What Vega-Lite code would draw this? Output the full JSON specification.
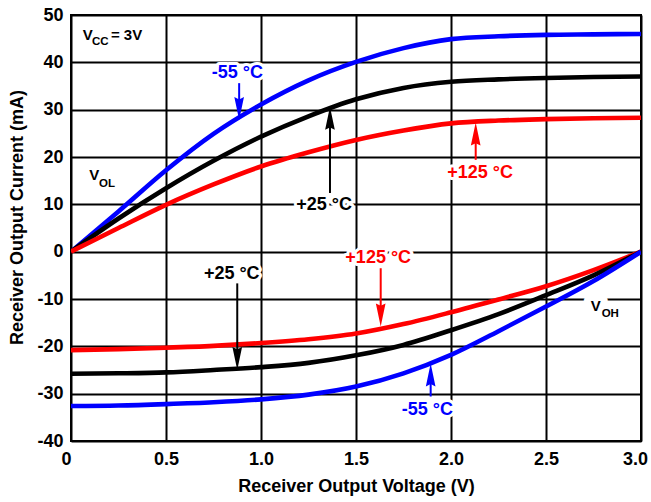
{
  "$schema": "https://vega.github.io/schema/vega-lite/v6.json",
  "autosize": "none",
  "width": 570,
  "height": 426,
  "padding": {"left": 71, "top": 15, "right": 10, "bottom": 61},
  "background": "white",
  "config": {
    "view": {"stroke": "black", "strokeWidth": 2},
    "font": "Liberation Sans",
    "axis": {
      "grid": true, "gridColor": "black", "gridWidth": 2, "gridOpacity": 1,
      "domain": false, "ticks": false, "tickSize": 0,
      "labelFont": "Liberation Sans", "labelFontSize": 18, "labelFontWeight": "bold", "labelColor": "black",
      "titleFont": "Liberation Sans", "titleFontSize": 18, "titleFontWeight": "bold", "titleColor": "black"
    }
  },
  "datasets": {
    "curves": [
      {"curve": "VOL-55", "temp": "-55", "v": 0, "i": 0},
      {"curve": "VOL-55", "temp": "-55", "v": 0.25, "i": 8.5},
      {"curve": "VOL-55", "temp": "-55", "v": 0.5, "i": 17.2},
      {"curve": "VOL-55", "temp": "-55", "v": 0.75, "i": 24.9},
      {"curve": "VOL-55", "temp": "-55", "v": 1.0, "i": 31.1},
      {"curve": "VOL-55", "temp": "-55", "v": 1.25, "i": 36.2},
      {"curve": "VOL-55", "temp": "-55", "v": 1.5, "i": 40.1},
      {"curve": "VOL-55", "temp": "-55", "v": 1.75, "i": 43.0},
      {"curve": "VOL-55", "temp": "-55", "v": 2.0, "i": 44.9},
      {"curve": "VOL-55", "temp": "-55", "v": 2.25, "i": 45.5},
      {"curve": "VOL-55", "temp": "-55", "v": 2.5, "i": 45.8},
      {"curve": "VOL-55", "temp": "-55", "v": 2.75, "i": 45.9},
      {"curve": "VOL-55", "temp": "-55", "v": 3.0, "i": 46.0},
      {"curve": "VOL+25", "temp": "+25", "v": 0, "i": 0},
      {"curve": "VOL+25", "temp": "+25", "v": 0.25, "i": 7.0},
      {"curve": "VOL+25", "temp": "+25", "v": 0.5, "i": 13.4},
      {"curve": "VOL+25", "temp": "+25", "v": 0.75, "i": 19.2},
      {"curve": "VOL+25", "temp": "+25", "v": 1.0, "i": 24.3},
      {"curve": "VOL+25", "temp": "+25", "v": 1.25, "i": 28.6},
      {"curve": "VOL+25", "temp": "+25", "v": 1.5, "i": 32.2},
      {"curve": "VOL+25", "temp": "+25", "v": 1.75, "i": 34.6},
      {"curve": "VOL+25", "temp": "+25", "v": 2.0, "i": 35.9},
      {"curve": "VOL+25", "temp": "+25", "v": 2.25, "i": 36.4},
      {"curve": "VOL+25", "temp": "+25", "v": 2.5, "i": 36.7},
      {"curve": "VOL+25", "temp": "+25", "v": 2.75, "i": 36.9},
      {"curve": "VOL+25", "temp": "+25", "v": 3.0, "i": 37.0},
      {"curve": "VOL+125", "temp": "+125", "v": 0, "i": 0},
      {"curve": "VOL+125", "temp": "+125", "v": 0.25, "i": 5.0},
      {"curve": "VOL+125", "temp": "+125", "v": 0.5, "i": 9.9},
      {"curve": "VOL+125", "temp": "+125", "v": 0.75, "i": 14.2},
      {"curve": "VOL+125", "temp": "+125", "v": 1.0, "i": 18.0},
      {"curve": "VOL+125", "temp": "+125", "v": 1.25, "i": 21.0},
      {"curve": "VOL+125", "temp": "+125", "v": 1.5, "i": 23.6},
      {"curve": "VOL+125", "temp": "+125", "v": 1.75, "i": 25.6},
      {"curve": "VOL+125", "temp": "+125", "v": 2.0, "i": 27.1},
      {"curve": "VOL+125", "temp": "+125", "v": 2.25, "i": 27.7},
      {"curve": "VOL+125", "temp": "+125", "v": 2.5, "i": 28.0},
      {"curve": "VOL+125", "temp": "+125", "v": 2.75, "i": 28.2},
      {"curve": "VOL+125", "temp": "+125", "v": 3.0, "i": 28.3},
      {"curve": "VOH+125", "temp": "+125", "v": 0, "i": -20.8},
      {"curve": "VOH+125", "temp": "+125", "v": 0.25, "i": -20.6},
      {"curve": "VOH+125", "temp": "+125", "v": 0.5, "i": -20.3},
      {"curve": "VOH+125", "temp": "+125", "v": 0.75, "i": -19.9},
      {"curve": "VOH+125", "temp": "+125", "v": 1.0, "i": -19.3},
      {"curve": "VOH+125", "temp": "+125", "v": 1.25, "i": -18.5},
      {"curve": "VOH+125", "temp": "+125", "v": 1.5, "i": -17.3},
      {"curve": "VOH+125", "temp": "+125", "v": 1.75, "i": -15.3},
      {"curve": "VOH+125", "temp": "+125", "v": 2.0, "i": -12.8},
      {"curve": "VOH+125", "temp": "+125", "v": 2.25, "i": -10.1},
      {"curve": "VOH+125", "temp": "+125", "v": 2.5, "i": -7.3},
      {"curve": "VOH+125", "temp": "+125", "v": 2.75, "i": -3.9},
      {"curve": "VOH+125", "temp": "+125", "v": 3.0, "i": 0},
      {"curve": "VOH+25", "temp": "+25", "v": 0, "i": -25.8},
      {"curve": "VOH+25", "temp": "+25", "v": 0.25, "i": -25.7},
      {"curve": "VOH+25", "temp": "+25", "v": 0.5, "i": -25.5},
      {"curve": "VOH+25", "temp": "+25", "v": 0.75, "i": -25.0},
      {"curve": "VOH+25", "temp": "+25", "v": 1.0, "i": -24.4},
      {"curve": "VOH+25", "temp": "+25", "v": 1.25, "i": -23.5},
      {"curve": "VOH+25", "temp": "+25", "v": 1.5, "i": -21.9},
      {"curve": "VOH+25", "temp": "+25", "v": 1.75, "i": -19.7},
      {"curve": "VOH+25", "temp": "+25", "v": 2.0, "i": -16.6},
      {"curve": "VOH+25", "temp": "+25", "v": 2.25, "i": -13.2},
      {"curve": "VOH+25", "temp": "+25", "v": 2.5, "i": -9.2},
      {"curve": "VOH+25", "temp": "+25", "v": 2.75, "i": -5.0},
      {"curve": "VOH+25", "temp": "+25", "v": 3.0, "i": 0},
      {"curve": "VOH-55", "temp": "-55", "v": 0, "i": -32.6},
      {"curve": "VOH-55", "temp": "-55", "v": 0.25, "i": -32.5},
      {"curve": "VOH-55", "temp": "-55", "v": 0.5, "i": -32.2},
      {"curve": "VOH-55", "temp": "-55", "v": 0.75, "i": -31.8},
      {"curve": "VOH-55", "temp": "-55", "v": 1.0, "i": -31.2},
      {"curve": "VOH-55", "temp": "-55", "v": 1.25, "i": -30.2},
      {"curve": "VOH-55", "temp": "-55", "v": 1.5, "i": -28.5},
      {"curve": "VOH-55", "temp": "-55", "v": 1.75, "i": -25.7},
      {"curve": "VOH-55", "temp": "-55", "v": 2.0, "i": -21.8},
      {"curve": "VOH-55", "temp": "-55", "v": 2.25, "i": -16.8},
      {"curve": "VOH-55", "temp": "-55", "v": 2.5, "i": -11.6},
      {"curve": "VOH-55", "temp": "-55", "v": 2.75, "i": -6.2},
      {"curve": "VOH-55", "temp": "-55", "v": 3.0, "i": 0}
    ],
    "labels": [
      {"text": "-55 °C", "temp": "-55", "v": 0.876, "i": 37.7},
      {"text": "+25 °C", "temp": "+25", "v": 1.332, "i": 9.9},
      {"text": "+125 °C", "temp": "+125", "v": 2.153, "i": 16.6},
      {"text": "+125 °C", "temp": "+125", "v": 1.617, "i": -1.4},
      {"text": "+25 °C", "temp": "+25", "v": 0.846, "i": -4.65},
      {"text": "-55 °C", "temp": "-55", "v": 1.876, "i": -33.45}
    ],
    "shafts": [
      {"temp": "-55", "v": 0.885, "i": 35.6, "i2": 30.2},
      {"temp": "+25", "v": 1.363, "i": 12.4, "i2": 28.2},
      {"temp": "+125", "v": 2.13, "i": 19.4, "i2": 24.9},
      {"temp": "+125", "v": 1.63, "i": -3.5, "i2": -13.4},
      {"temp": "+25", "v": 0.875, "i": -6.7, "i2": -22.6},
      {"temp": "-55", "v": 1.893, "i": -30.6, "i2": -26.0}
    ],
    "heads": [
      {"temp": "-55", "dir": "down", "v": 0.885, "i": 30.23},
      {"temp": "+25", "dir": "up", "v": 1.363, "i": 28.17},
      {"temp": "+125", "dir": "up", "v": 2.13, "i": 24.87},
      {"temp": "+125", "dir": "down", "v": 1.63, "i": -13.37},
      {"temp": "+25", "dir": "down", "v": 0.875, "i": -22.57},
      {"temp": "-55", "dir": "up", "v": 1.893, "i": -26.03}
    ],
    "mainText": [
      {"text": "V", "v": 0.0616, "i": 44.73},
      {"text": "= 3V", "v": 0.21, "i": 44.73},
      {"text": "V", "v": 0.0963, "i": 15.15},
      {"text": "V", "v": 2.735, "i": -12.53}
    ],
    "subText": [
      {"text": "CC", "v": 0.1105, "i": 43.67},
      {"text": "OL", "v": 0.147, "i": 13.73},
      {"text": "OH", "v": 2.793, "i": -13.73}
    ]
  },
  "encoding": {
    "x": {
      "field": "v", "type": "quantitative",
      "scale": {"domain": [0, 3], "nice": false, "zero": false},
      "axis": {
        "title": "Receiver Output Voltage (V)",
        "values": [0, 0.5, 1, 1.5, 2, 2.5, 3],
        "labelExpr": "datum.value == 0 ? '0\u00a0' : format(datum.value, '.1f')",
        "labelAlign": {"condition": {"test": "datum.value == 0", "value": "right"}, "value": "center"},
        "labelOffset": {"condition": {"test": "datum.value == 3", "value": -6}, "value": 0},
        "labelPadding": 9,
        "titlePadding": 9
      }
    },
    "y": {
      "field": "i", "type": "quantitative",
      "scale": {"domain": [-40, 50], "nice": false, "zero": false},
      "axis": {
        "title": "Receiver Output Current (mA)",
        "values": [-40, -30, -20, -10, 0, 10, 20, 30, 40, 50],
        "labelExpr": "'' + datum.value",
        "labelPadding": 8,
        "titlePadding": 10,
        "titleY": 202
      }
    }
  },
  "layer": [
    {
      "data": {"name": "curves"},
      "mark": {"type": "line", "interpolate": "monotone", "strokeWidth": 4.6, "clip": true},
      "encoding": {
        "color": {"field": "temp", "type": "nominal", "legend": null,
          "scale": {"domain": ["-55", "+25", "+125"], "range": ["#0000ff", "#000000", "#ff0000"]}},
        "detail": {"field": "curve"},
        "order": {"field": "v"}
      }
    },
    {
      "data": {"name": "labels"},
      "mark": {"type": "text", "fontSize": 18, "fontWeight": "bold", "align": "center", "baseline": "middle",
        "fill": "white", "stroke": "white", "strokeWidth": 6, "strokeJoin": "round"},
      "encoding": {"text": {"field": "text"}}
    },
    {
      "data": {"name": "mainText"},
      "mark": {"type": "text", "fontSize": 15, "fontWeight": "bold", "align": "left", "baseline": "alphabetic",
        "fill": "white", "stroke": "white", "strokeWidth": 14, "strokeJoin": "round"},
      "encoding": {"text": {"field": "text"}}
    },
    {
      "data": {"name": "subText"},
      "mark": {"type": "text", "fontSize": 11.5, "fontWeight": "bold", "align": "left", "baseline": "alphabetic",
        "fill": "white", "stroke": "white", "strokeWidth": 14, "strokeJoin": "round"},
      "encoding": {"text": {"field": "text"}}
    },
    {
      "data": {"name": "labels"},
      "mark": {"type": "text", "fontSize": 18, "fontWeight": "bold", "align": "center", "baseline": "middle"},
      "encoding": {
        "text": {"field": "text"},
        "color": {"field": "temp", "type": "nominal", "legend": null}
      }
    },
    {
      "data": {"name": "mainText"},
      "mark": {"type": "text", "fontSize": 15, "fontWeight": "bold", "align": "left", "baseline": "alphabetic", "color": "black"},
      "encoding": {"text": {"field": "text"}}
    },
    {
      "data": {"name": "subText"},
      "mark": {"type": "text", "fontSize": 11.5, "fontWeight": "bold", "align": "left", "baseline": "alphabetic", "color": "black"},
      "encoding": {"text": {"field": "text"}}
    },
    {
      "data": {"name": "shafts"},
      "mark": {"type": "rule", "strokeWidth": 2},
      "encoding": {
        "y2": {"field": "i2"},
        "color": {"field": "temp", "type": "nominal", "legend": null}
      }
    },
    {
      "data": {"name": "heads"},
      "mark": {"type": "point", "filled": true, "opacity": 1, "size": 529},
      "encoding": {
        "shape": {"field": "dir", "type": "nominal", "legend": null,
          "scale": {"domain": ["up", "down"], "range": ["M0,-1L0.42,1L0,0.8L-0.42,1Z", "M0,1L0.42,-1L0,-0.8L-0.42,-1Z"]}},
        "color": {"field": "temp", "type": "nominal", "legend": null}
      }
    }
  ]
}
